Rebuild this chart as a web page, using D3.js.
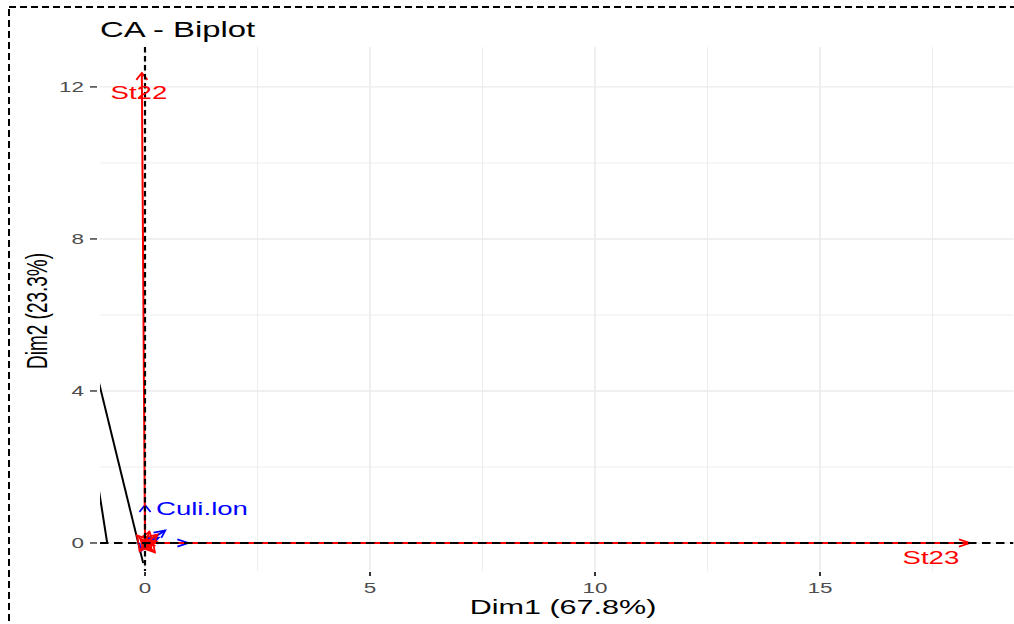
<!DOCTYPE html>
<html>
<head>
<meta charset="utf-8">
<script src="https://cdn.jsdelivr.net/npm/d3@7"></script>
<style>
  body { margin: 0; background: #fff; }
  text { font-family: "Liberation Sans", Arial, sans-serif; }
</style>
</head>
<body>
<div id="chart"></div>
<script>
// row points (stations) - red
const rowNames = ["St22", "St23", "St4", "St7", "St9", "St12", "St15", "St18", "St2", "St5", "St10"];
const rowDim1 = [-0.07, 18.33, 0.28, 0.22, -0.18, 0.25, 0.1, -0.12, 0.2, -0.1, 0.14];
const rowDim2 = [12.37, 0.0, 0.22, -0.25, 0.2, 0.04, 0.3, -0.22, -0.06, 0.1, -0.2];

// column points (species) - blue
const colNames = ["Culi.lon", "Aede.alb", "Anop.sp", "Culex.sp", "Mans.sp"];
const colDim1 = [0.0, 0.96, 0.45, 0.3, -0.08];
const colDim2 = [1.0, 0.0, 0.33, 0.14, -0.2];

// the two black segments on the left
const segX1 = [-1.05, -1.02];
const segY1 = [4.35, 1.36];
const segX2 = [-0.04, -0.84];
const segY2 = [-0.53, 0.0];

const labeled = ["St22", "St23", "Culi.lon"];

const xTicks = [0, 5, 10, 15];
const yTicks = [0, 4, 8, 12];
const xMinor = [2.5, 7.5, 12.5, 17.5];
const yMinor = [2, 6, 10];

const width = 1014, height = 624;
const SX = 1.55; // the picture is stretched sideways

const svg = d3.select("#chart")
  .append("svg")
  .attr("width", width)
  .attr("height", height);

const x = d3.scaleLinear().domain([-1, 19.3]).range([100, 1013.5]);
const y = d3.scaleLinear().domain([-0.737, 13.05]).range([571, 47]);
const [px0, px1] = x.range(), [py1, py0] = y.range();

svg.append("defs").append("clipPath").attr("id", "panel")
  .append("rect")
  .attr("x", px0).attr("y", py0)
  .attr("width", px1 - px0).attr("height", py1 - py0);

// stretched text helper
function label(g, tx, ty, str, opts) {
  return g.append("text")
    .attr("transform", `translate(${tx},${ty}) scale(${SX},1)` + (opts.rotate ? ` rotate(${opts.rotate})` : ""))
    .attr("text-anchor", opts.anchor || "start")
    .attr("font-size", opts.size)
    .attr("fill", opts.color || "#000")
    .text(str);
}

// grid
const grid = svg.append("g");
grid.selectAll(".xminor").data(xMinor).join("line")
  .attr("x1", d => x(d)).attr("x2", d => x(d))
  .attr("y1", py0).attr("y2", py1)
  .attr("stroke", "#ebebeb").attr("stroke-width", 0.9);
grid.selectAll(".yminor").data(yMinor).join("line")
  .attr("x1", px0).attr("x2", px1)
  .attr("y1", d => y(d)).attr("y2", d => y(d))
  .attr("stroke", "#ebebeb").attr("stroke-width", 0.9);
grid.selectAll(".xmajor").data(xTicks).join("line")
  .attr("x1", d => x(d)).attr("x2", d => x(d))
  .attr("y1", py0).attr("y2", py1)
  .attr("stroke", "#ebebeb").attr("stroke-width", 1.6);
grid.selectAll(".ymajor").data(yTicks).join("line")
  .attr("x1", px0).attr("x2", px1)
  .attr("y1", d => y(d)).attr("y2", d => y(d))
  .attr("stroke", "#ebebeb").attr("stroke-width", 1.4);

// axes ticks and labels
const axes = svg.append("g");
yTicks.forEach(t => {
  axes.append("line")
    .attr("x1", 90).attr("x2", 97)
    .attr("y1", y(t)).attr("y2", y(t))
    .attr("stroke", "#333").attr("stroke-width", 1.4);
  label(axes, 84, y(t) + 5.5, t, { anchor: "end", size: 14.5, color: "#4d4d4d" });
});
xTicks.forEach(t => {
  axes.append("line")
    .attr("x1", x(t)).attr("x2", x(t))
    .attr("y1", 572).attr("y2", 576)
    .attr("stroke", "#333").attr("stroke-width", 2);
  label(axes, x(t), 593, t, { anchor: "middle", size: 14.5, color: "#4d4d4d" });
});

label(axes, 563, 614, "Dim1 (67.8%)", { anchor: "middle", size: 19.7 });
label(axes, 47, 311, "Dim2 (23.3%)", { anchor: "middle", size: 19, rotate: -90 });
label(axes, 100, 37, "CA - Biplot", { size: 21.2 });

// plot content
const plot = svg.append("g").attr("clip-path", "url(#panel)");

plot.selectAll(".seg").data(segX1).join("line")
  .attr("x1", (d, i) => x(segX1[i])).attr("y1", (d, i) => y(segY1[i]))
  .attr("x2", (d, i) => x(segX2[i])).attr("y2", (d, i) => y(segY2[i]))
  .attr("stroke", "#000").attr("stroke-width", 2);

function arrowHead(x0, y0, x1, y1) {
  // build head in unstretched space then stretch back
  let dx = (x1 - x0) / SX, dy = y1 - y0;
  const len = Math.hypot(dx, dy) || 1;
  dx /= len; dy /= len;
  const L = 7, w = 3.6;
  const a = [x1 + (-L * dx - w * dy) * SX, y1 - L * dy + w * dx];
  const b = [x1 + (-L * dx + w * dy) * SX, y1 - L * dy - w * dx];
  return `M${a[0]},${a[1]}L${x1},${y1}L${b[0]},${b[1]}`;
}

function arrows(names, d1, d2, color) {
  const g = plot.append("g");
  names.forEach((n, i) => {
    const tx = x(d1[i]), ty = y(d2[i]);
    g.append("line")
      .attr("x1", x(0)).attr("y1", y(0))
      .attr("x2", tx).attr("y2", ty)
      .attr("stroke", color).attr("stroke-width", 2);
    g.append("path")
      .attr("d", arrowHead(x(0), y(0), tx, ty))
      .attr("fill", "none").attr("stroke", color).attr("stroke-width", 1.8);
  });
}
arrows(colNames, colDim1, colDim2, "#0000ff");
arrows(rowNames, rowDim1, rowDim2, "#ff0000");

// reference lines at 0
plot.append("line")
  .attr("x1", px0).attr("x2", px1)
  .attr("y1", y(0)).attr("y2", y(0))
  .attr("stroke", "#000").attr("stroke-width", 1.8)
  .attr("stroke-dasharray", "8.5,5.5");
plot.append("line")
  .attr("x1", x(0)).attr("x2", x(0))
  .attr("y1", py0).attr("y2", py1)
  .attr("stroke", "#000").attr("stroke-width", 2.2)
  .attr("stroke-dasharray", "5.5,3.5");

// labels (repelled positions, nudged in pixels)
const nudge = { "St22": [-3, 26, "middle"], "St23": [-39, 21, "middle"], "Culi.lon": [11, 10, "start"] };
const labs = svg.append("g");
rowNames.forEach((n, i) => {
  if (!labeled.includes(n)) return;
  const [nx, ny, anc] = nudge[n];
  label(labs, x(rowDim1[i]) + nx, y(rowDim2[i]) + ny, n, { anchor: anc, size: 17.8, color: "#ff0000" });
});
colNames.forEach((n, i) => {
  if (!labeled.includes(n)) return;
  const [nx, ny, anc] = nudge[n];
  label(labs, x(colDim1[i]) + nx, y(colDim2[i]) + ny, n, { anchor: anc, size: 17.8, color: "#0000ff" });
});

// dashed outer border
svg.append("rect")
  .attr("x", 9).attr("y", 7)
  .attr("width", 1020).attr("height", 640)
  .attr("fill", "none")
  .attr("stroke", "#000").attr("stroke-width", 2)
  .attr("stroke-dasharray", "7,4");
</script>
</body>
</html>
